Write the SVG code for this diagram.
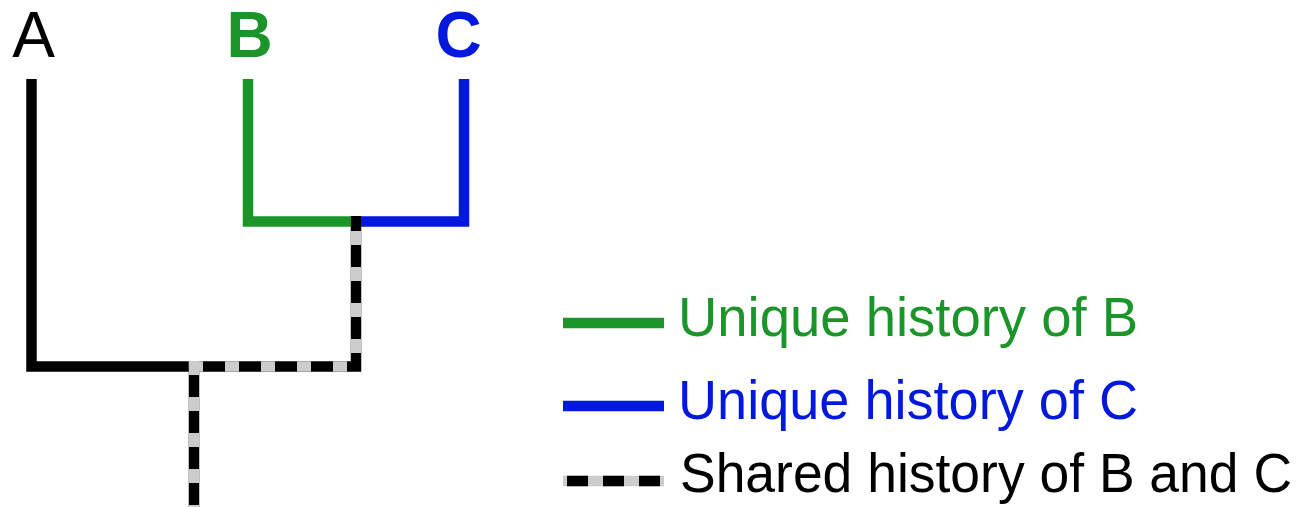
<svg xmlns="http://www.w3.org/2000/svg" width="1305" height="507" viewBox="0 0 1305 507">
<style>
.lbl{font-family:"Liberation Sans",Arial,sans-serif;font-size:64px;text-anchor:middle}
.leg{font-family:"Liberation Sans",Arial,sans-serif;font-size:55px}
.ln{fill:none;stroke-width:10.5;stroke-linecap:butt;stroke-linejoin:miter}
.blk{stroke:#000}
.grn{stroke:#1b9429}
.blu{stroke:#0219dc}
.gry{stroke:#cccccc;stroke-dasharray:14 22}
</style>
<rect width="1305" height="507" fill="#fff"/>
<g id="connectors">
<path class="ln blk" d="M31.5 79 V366.5 H356 V216"/>
<path class="ln blk" d="M194 366.5 V507"/>
<path class="ln grn" d="M248 79 V221.5 H351"/>
<path class="ln blu" d="M361 221.5 H464 V79"/>
<path class="ln gry" d="M356 231 V372"/>
<path class="ln gry" d="M189 366.5 H361"/>
<path class="ln gry" d="M194 361 V507"/>
</g>
<g id="node-A"><text class="lbl" x="33.5" y="57" fill="#000">A</text></g>
<g id="node-B"><text class="lbl" x="249.5" y="57" fill="#1b9429" font-weight="bold">B</text></g>
<g id="node-C"><text class="lbl" x="458.5" y="57" fill="#0219dc" font-weight="bold">C</text></g>
<g id="legend">
<line class="ln grn" x1="563" y1="323" x2="664" y2="323"/>
<text class="leg" x="678" y="336" fill="#1b9429" textLength="460" lengthAdjust="spacingAndGlyphs">Unique history of B</text>
<line class="ln blu" x1="563" y1="406" x2="664" y2="406"/>
<text class="leg" x="678" y="419" fill="#0219dc" textLength="460" lengthAdjust="spacingAndGlyphs">Unique history of C</text>
<line class="ln" stroke="#cccccc" x1="563" y1="481" x2="664" y2="481"/>
<line class="ln blk" x1="567" y1="481" x2="664" y2="481" stroke-dasharray="21 15"/>
<text class="leg" x="680" y="492" fill="#000" font-size="52" textLength="612" lengthAdjust="spacingAndGlyphs">Shared history of B and C</text>
</g>
</svg>
